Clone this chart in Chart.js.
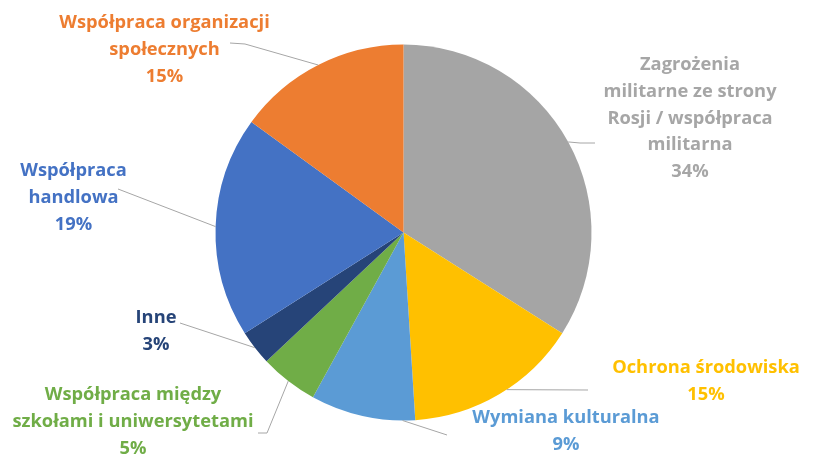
<!DOCTYPE html>
<html>
<head>
<meta charset="utf-8">
<script src="https://cdn.jsdelivr.net/npm/chart.js@4"></script>
<style>
    html, body { margin: 0; padding: 0; background: #fff; }
    #wrap { width: 813px; height: 455px; }
</style>
</head>
<body>
<div id="wrap"><canvas id="chart"></canvas></div>
<script>
"use strict";

const categories = [
    ["Zagrożenia", "militarne ze strony", "Rosji / współpraca", "militarna"],
    ["Ochrona środowiska"],
    ["Wymiana kulturalna"],
    ["Współpraca między", "szkołami i uniwersytetami"],
    ["Inne"],
    ["Współpraca", "handlowa"],
    ["Współpraca organizacji", "społecznych"]
];
const shares = [34, 15, 9, 5, 3, 19, 15];
const sliceColors = ["#a5a5a5", "#ffc000", "#5b9bd5", "#70ad47", "#264478", "#4472c4", "#ed7d31"];
const textColors = ["#a6a6a6", "#ffc000", "#5b9bd5", "#70ad47", "#264478", "#4472c4", "#ed7d31"];

// label block centre x, first line y, where the leader line ends, and where on the slice it starts (0..1)
const labelLayout = [
    { x: 690, y: 65, tail: [[580, 143], [595, 143]], at: 0.5 },
    { x: 706, y: 368, tail: [[588, 390]], at: 0.45 },
    { x: 566, y: 418, tail: [[447, 435]], at: 0.12 },
    { x: 133, y: 395, tail: [[267, 433], [258, 433]], at: 0.5 },
    { x: 156, y: 318, tail: [[180, 323]], at: 0.5 },
    { x: 73.5, y: 171, tail: [[118, 189]], at: 0.5 },
    { x: 164.5, y: 23, tail: [[245, 44], [230, 43]], at: 0.5 }
];

const kFont = "bold 18.3px 'Open Sans', sans-serif";
const kLineHeight = 26.7;

const outsideLabels = {
    id: "outsideLabels",
    afterDatasetsDraw(chart) {
        const { ctx } = chart;
        const arcs = chart.getDatasetMeta(0).data;
        ctx.save();

        ctx.strokeStyle = "#a6a6a6";
        ctx.lineWidth = 1;
        arcs.forEach((arc, i) => {
            const lay = labelLayout[i];
            const angle = arc.startAngle + (arc.endAngle - arc.startAngle) * lay.at;
            ctx.beginPath();
            ctx.moveTo(arc.x + Math.cos(angle) * arc.outerRadius, arc.y + Math.sin(angle) * arc.outerRadius);
            for (const [px, py] of lay.tail) {
                ctx.lineTo(px, py);
            }
            ctx.stroke();
        });

        ctx.font = kFont;
        ctx.textAlign = "center";
        ctx.textBaseline = "middle";
        categories.forEach((lines, i) => {
            const lay = labelLayout[i];
            ctx.fillStyle = textColors[i];
            const all = [...lines, `${shares[i]}%`];
            all.forEach((txt, k) => {
                ctx.fillText(txt, lay.x, lay.y + k * kLineHeight);
            });
        });
        ctx.restore();
    }
};

document.addEventListener("DOMContentLoaded", () => {
    new Chart(document.getElementById("chart").getContext("2d"), {
        type: "pie",
        data: {
            labels: categories,
            datasets: [{
                data: shares,
                backgroundColor: sliceColors,
                borderWidth: 0
            }]
        },
        options: {
            responsive: true,
            maintainAspectRatio: false,
            animation: false,
            layout: {
                padding: { top: 44.5, bottom: 34.5, left: 215.5, right: 221.5 }
            },
            plugins: {
                legend: { display: false },
                tooltip: { enabled: false }
            }
        },
        plugins: [outsideLabels]
    });
});
</script>
</body>
</html>
